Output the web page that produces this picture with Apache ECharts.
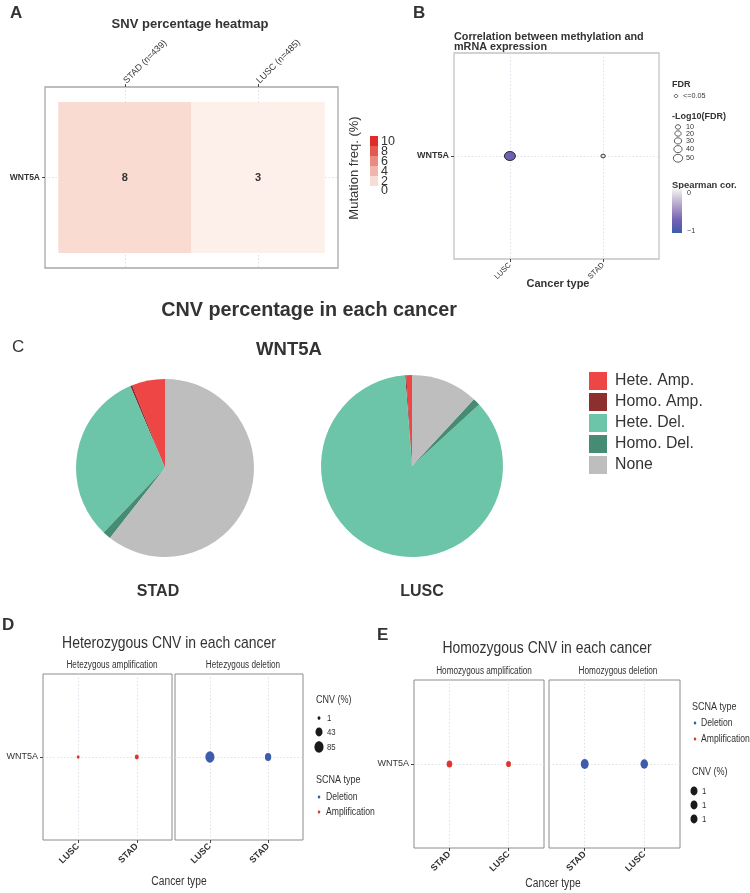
<!DOCTYPE html>
<html><head><meta charset="utf-8">
<script src="https://cdn.jsdelivr.net/npm/echarts@6/dist/echarts.min.js"></script>
<style>html,body{margin:0;padding:0;background:#fff}#c{width:750px;height:893px}</style>
</head><body><div id="c"></div>
<script>
// ---------------- DATA ----------------
const snvCancers = ['STAD (n=439)', 'LUSC (n=485)'];
const snvGenes = ['WNT5A'];
const snvFreq = [8, 3];
const snvLegendTicks = [10, 8, 6, 4, 2, 0];

const methCancers = ['LUSC', 'STAD'];
const methGenes = ['WNT5A'];
const methCor = [-0.7, -0.05];
const methLogFDR = [68, 1.5];
const fdrLegendTicks = [10, 20, 30, 40, 50];

const cnvTypes = ['Hete. Amp.', 'Homo. Amp.', 'Hete. Del.', 'Homo. Del.', 'None'];
const cnvSTAD = [6, 0.4, 31.5, 1.5, 60.6];
const cnvLUSC = [1, 0.2, 85.6, 1.3, 11.9];

const heteCancers = ['LUSC', 'STAD'];
const heteAmp = [1, 6];
const heteDel = [85.6, 31.5];
const heteSizeTicks = [1, 43, 85];

const homoCancers = ['STAD', 'LUSC'];
const homoAmp = [0.4, 0.2];
const homoDel = [1.5, 1.3];
const homoSizeTicks = [1, 1, 1];

// ---------------- STYLE ----------------
const SANS = "'Liberation Sans', Arial, Helvetica, sans-serif";
const NSX = 0.82; // horizontal squeeze to emulate a narrow face
const TXT = '#333';
const GRIDC = '#D3D9E6';
const RED = '#DF3730';
const BLUE = '#3D5DAC';
const pieColors = ['#EE4545', '#8E2F2F', '#6CC5A8', '#468B73', '#BEBEBE'];
function snvFill(v){ return 'rgb(' + Math.round(255-0.6*v) + ',' + Math.round(252.6-4.2*v) + ',' + Math.round(250.6-5.2*v) + ')'; }
function methSize(v){ return 4.3 + 0.1*v; }
function heteSize(v){ return 2.6 + 0.95*Math.sqrt(v); }
function homoSize(v){ return 4 + 4.8*Math.sqrt(v); }

function catX(gi, cats, o){
  const vals = cats.map((c,i)=>i+1);
  return {
    type:'value', gridIndex:gi, min:0.4, max:0.6+cats.length, position:o.pos||'bottom',
    axisLine:{show:false},
    axisTick:{show:true, customValues:vals, length:3, lineStyle:{color:'#333', width:0.9}},
    axisLabel:{show:o.label!==false, customValues:vals, formatter:function(v){return cats[Math.round(v)-1]||'';},
      rotate:o.rotate||0, fontSize:o.fs||9, fontFamily:o.ff||SANS, fontWeight:o.fw||'normal', color:TXT, margin:o.margin||5},
    splitLine:{show:true, lineStyle:{color:GRIDC, type:[1.5,2], width:0.8}}
  };
}
function catY(gi, cats, o){
  const vals = cats.map((c,i)=>i+1);
  return {
    type:'value', gridIndex:gi, min:0.4, max:0.6+cats.length,
    axisLine:{show:false},
    axisTick:{show:o.label!==false, customValues:vals, length:3, lineStyle:{color:'#333', width:0.9}},
    axisLabel:{show:o.label!==false, customValues:vals, formatter:function(v){return cats[Math.round(v)-1]||'';},
      fontSize:o.fs||9, fontFamily:o.ff||SANS, fontWeight:o.fw||'normal', color:TXT, margin:o.margin||5},
    splitLine:{show:true, lineStyle:{color:GRIDC, type:[1.5,2], width:0.8}}
  };
}
function G(l,t,w,h,bc,bw){ return {left:l, top:t, width:w, height:h, show:true, borderColor:bc, borderWidth:bw, backgroundColor:'transparent', containLabel:false, outerBoundsMode:'none'}; }
function T(x,y,text,o){ o=o||{}; return {type:'text', x:x, y:y, rotation:o.rot||0, scaleX:o.sx||1, z:100, silent:true,
  style:{text:text, fontSize:o.fs||10, fontWeight:o.fw||'normal', fontFamily:SANS, fill:o.c||TXT, align:o.al||'left', verticalAlign:o.va||'middle'}}; }
function E(cx,cy,w,h,fill,stroke,lw){ return {type:'ellipse', z:100, silent:true, shape:{cx:cx, cy:cy, rx:w/2, ry:h/2}, style:{fill:fill||'none', stroke:stroke||null, lineWidth:lw||0}}; }

// ---------------- GRAPHICS (texts & legends) ----------------
const gr = [];
// Panel A
gr.push(T(10, 13, 'A', {fs:17, fw:'bold'}));
gr.push(T(190, 24, 'SNV percentage heatmap', {fs:13, fw:'bold', al:'center'}));
gr.push(T(354, 168, 'Mutation freq. (%)', {fs:13, rot:Math.PI/2, al:'center'}));
const barCols = ['#E02B2B','#E45A50','#E98B80','#F0B6AE','#F8DCD5'];
barCols.forEach((c,i)=>gr.push({type:'rect', z:100, silent:true, shape:{x:370, y:136+i*10, width:8, height:10}, style:{fill:c}}));
snvLegendTicks.forEach((v,i)=>gr.push(T(381, 142+i*9.8, String(v), {fs:12.5})));
// Panel B
gr.push(T(413, 13, 'B', {fs:17, fw:'bold'}));
gr.push(T(454, 37.5, 'Correlation between methylation and', {fs:10.8, fw:'bold'}));
gr.push(T(454, 47.5, 'mRNA expression', {fs:10.8, fw:'bold'}));
gr.push(T(558, 284, 'Cancer type', {fs:11, fw:'bold', al:'center'}));
gr.push(T(672, 85, 'FDR', {fs:9, fw:'bold'}));
gr.push(E(676, 96, 3.4, 3.2, '#fff', '#333', 0.8));
gr.push(T(683, 96, '<=0.05', {fs:7.2}));
gr.push(T(672, 117, '-Log10(FDR)', {fs:9, fw:'bold'}));
let ly = 127, prev = null;
fdrLegendTicks.forEach(v=>{
  const s = methSize(v);
  if (prev !== null) ly += (prev + s)/2*0.85 + 1.6;
  gr.push(E(678, ly, s, s*0.85, 'none', '#333', 0.8));
  gr.push(T(686, ly, String(v), {fs:7.2}));
  prev = s;
});
gr.push(T(672, 185, 'Spearman cor.', {fs:9.4, fw:'bold'}));
gr.push({type:'rect', z:100, silent:true, shape:{x:672, y:189, width:10, height:44},
  style:{fill:new echarts.graphic.LinearGradient(0,0,0,1,[{offset:0,color:'#F2F2F2'},{offset:0.35,color:'#B7A7CB'},{offset:0.7,color:'#7462B3'},{offset:1,color:'#3C5CA9'}])}});
gr.push(T(687, 193, '0', {fs:7.2}));
gr.push(T(687, 231, '\u22121', {fs:7.2}));
// Panel C
gr.push(T(309, 311, 'CNV percentage in each cancer', {fs:19.8, fw:'bold', al:'center'}));
gr.push(T(12, 347, 'C', {fs:17}));
gr.push(T(289, 350, 'WNT5A', {fs:18.5, fw:'bold', al:'center'}));
gr.push(T(158, 592, 'STAD', {fs:16, fw:'bold', al:'center'}));
gr.push(T(422, 592, 'LUSC', {fs:16, fw:'bold', al:'center'}));
// Panel D
gr.push(T(2, 625, 'D', {fs:17, fw:'bold'}));
gr.push(T(169, 643, 'Heterozygous CNV in each cancer', {fs:17, sx:NSX, al:'center'}));
gr.push(T(112, 665, 'Hetezygous amplification', {fs:10, sx:NSX, al:'center'}));
gr.push(T(243, 665, 'Hetezygous deletion', {fs:10, sx:NSX, al:'center'}));
gr.push(T(179, 882, 'Cancer type', {fs:12.5, sx:NSX, al:'center'}));
gr.push(T(316, 700, 'CNV (%)', {fs:11, sx:NSX}));
heteSizeTicks.forEach((v,i)=>{
  const h = heteSize(v);
  const y = [718, 732, 747][i];
  gr.push(E(319, y, h*0.8, h, '#1A1A1A'));
  gr.push(T(327, y, String(v), {fs:9.5, sx:NSX}));
});
gr.push(T(316, 780, 'SCNA type', {fs:11, sx:NSX}));
gr.push(E(319, 797, 2.6, 3, BLUE)); gr.push(T(326, 797, 'Deletion', {fs:10.5, sx:NSX}));
gr.push(E(319, 812, 2.6, 3, RED)); gr.push(T(326, 812, 'Amplification', {fs:10.5, sx:NSX}));
// Panel E
gr.push(T(377, 635, 'E', {fs:17, fw:'bold'}));
gr.push(T(547, 648, 'Homozygous CNV in each cancer', {fs:17, sx:NSX, al:'center'}));
gr.push(T(484, 671, 'Homozygous amplification', {fs:10, sx:NSX, al:'center'}));
gr.push(T(618, 671, 'Homozygous deletion', {fs:10, sx:NSX, al:'center'}));
gr.push(T(553, 884, 'Cancer type', {fs:12.5, sx:NSX, al:'center'}));
gr.push(T(692, 707, 'SCNA type', {fs:11, sx:NSX}));
gr.push(E(695, 723, 2.6, 3, BLUE)); gr.push(T(701, 723, 'Deletion', {fs:10.5, sx:NSX}));
gr.push(E(695, 739, 2.6, 3, RED)); gr.push(T(701, 739, 'Amplification', {fs:10.5, sx:NSX}));
gr.push(T(692, 772, 'CNV (%)', {fs:11, sx:NSX}));
homoSizeTicks.forEach((v,i)=>{
  const h = homoSize(v);
  const y = 791 + i*14;
  gr.push(E(694, y, h*0.8, h, '#1A1A1A'));
  gr.push(T(702, y, String(v), {fs:9.5, sx:NSX}));
});

// ---------------- OPTION ----------------
const option = {
  animation:false,
  textStyle:{fontFamily:SANS},
  grid:[
    G(45, 87, 293, 181, '#A8A8A8', 1.3),
    G(454, 53, 205, 206, '#C4C4C4', 1.3),
    G(43, 674, 129, 166, '#8C8C8C', 1),
    G(175, 674, 128, 166, '#8C8C8C', 1),
    G(414, 680, 130, 168, '#8C8C8C', 1),
    G(549, 680, 131, 168, '#8C8C8C', 1)
  ],
  xAxis:[
    catX(0, snvCancers, {pos:'top', rotate:-45, fs:9, margin:5}),
    catX(1, methCancers, {rotate:45, fs:7.5, margin:5}),
    catX(2, heteCancers, {rotate:45, fs:9, fw:'bold', margin:5}),
    catX(3, heteCancers, {rotate:45, fs:9, fw:'bold', margin:5}),
    catX(4, homoCancers, {rotate:45, fs:9, fw:'bold', margin:5}),
    catX(5, homoCancers, {rotate:45, fs:9, fw:'bold', margin:5})
  ],
  yAxis:[
    catY(0, snvGenes, {fs:8.5, fw:'bold'}),
    catY(1, methGenes, {fs:9, fw:'bold'}),
    catY(2, ['WNT5A'], {fs:9}),
    catY(3, ['WNT5A'], {label:false}),
    catY(4, ['WNT5A'], {fs:9}),
    catY(5, ['WNT5A'], {label:false})
  ],
  visualMap:[{show:false, type:'continuous', seriesIndex:1, dimension:2, min:-1, max:0,
    inRange:{color:['#3C5CA9','#7462B3','#B7A7CB','#F2F2F2']}}],
  legend:{orient:'vertical', left:589, top:372, itemWidth:18, itemHeight:18, itemGap:3, icon:'rect',
    padding:0, selectedMode:false, data:cnvTypes,
    textStyle:{fontSize:15.8, color:TXT, fontFamily:SANS, padding:[0,0,0,3]}},
  graphic:{elements:gr},
  series:[
    {type:'custom', xAxisIndex:0, yAxisIndex:0, silent:true,
     data: snvCancers.map((c,i)=>[i+1, 1, snvFreq[i]]),
     renderItem:function(params, api){
       const xv=api.value(0), yv=api.value(1), val=api.value(2);
       const p0=api.coord([xv-0.5, yv+0.5]), p1=api.coord([xv+0.5, yv-0.5]), c=api.coord([xv,yv]);
       return {type:'group', children:[
         {type:'rect', shape:{x:p0[0], y:p0[1], width:p1[0]-p0[0], height:p1[1]-p0[1]}, style:{fill:snvFill(val)}},
         {type:'text', x:c[0], y:c[1], style:{text:String(val), align:'center', verticalAlign:'middle', fontSize:11, fontWeight:'bold', fill:TXT, fontFamily:SANS}}
       ]};
     }},
    {type:'scatter', xAxisIndex:1, yAxisIndex:1, silent:true,
     data: methCancers.map((c,i)=>[i+1, 1, methCor[i], methLogFDR[i]]),
     symbol:'circle',
     symbolSize:function(d){ const s=methSize(d[3]); return [s, s*0.82]; },
     itemStyle:{borderColor:'#222', borderWidth:0.9, opacity:1}},
    {type:'pie', center:[165,468], radius:89, startAngle:90, clockwise:false, silent:true,
     label:{show:false}, labelLine:{show:false}, itemStyle:{borderWidth:0},
     data: cnvTypes.map((n,i)=>({name:n, value:cnvSTAD[i], itemStyle:{color:pieColors[i]}}))},
    {type:'pie', center:[412,466], radius:91, startAngle:90, clockwise:false, silent:true,
     label:{show:false}, labelLine:{show:false}, itemStyle:{borderWidth:0},
     data: cnvTypes.map((n,i)=>({name:n, value:cnvLUSC[i], itemStyle:{color:pieColors[i]}}))},
    {type:'scatter', xAxisIndex:2, yAxisIndex:2, silent:true,
     data: heteCancers.map((c,i)=>[i+1, 1, heteAmp[i]]),
     symbolSize:function(d){ const h=heteSize(d[2]); return [h*0.8, h]; }, itemStyle:{color:RED, opacity:1}},
    {type:'scatter', xAxisIndex:3, yAxisIndex:3, silent:true,
     data: heteCancers.map((c,i)=>[i+1, 1, heteDel[i]]),
     symbolSize:function(d){ const h=heteSize(d[2]); return [h*0.8, h]; }, itemStyle:{color:BLUE, opacity:1}},
    {type:'scatter', xAxisIndex:4, yAxisIndex:4, silent:true,
     data: homoCancers.map((c,i)=>[i+1, 1, homoAmp[i]]),
     symbolSize:function(d){ const h=homoSize(d[2]); return [h*0.8, h]; }, itemStyle:{color:RED, opacity:1}},
    {type:'scatter', xAxisIndex:5, yAxisIndex:5, silent:true,
     data: homoCancers.map((c,i)=>[i+1, 1, homoDel[i]]),
     symbolSize:function(d){ const h=homoSize(d[2]); return [h*0.8, h]; }, itemStyle:{color:BLUE, opacity:1}}
  ]
};
const chart = echarts.init(document.getElementById('c'), null, {renderer:'canvas'});
chart.setOption(option);
</script></body></html>
